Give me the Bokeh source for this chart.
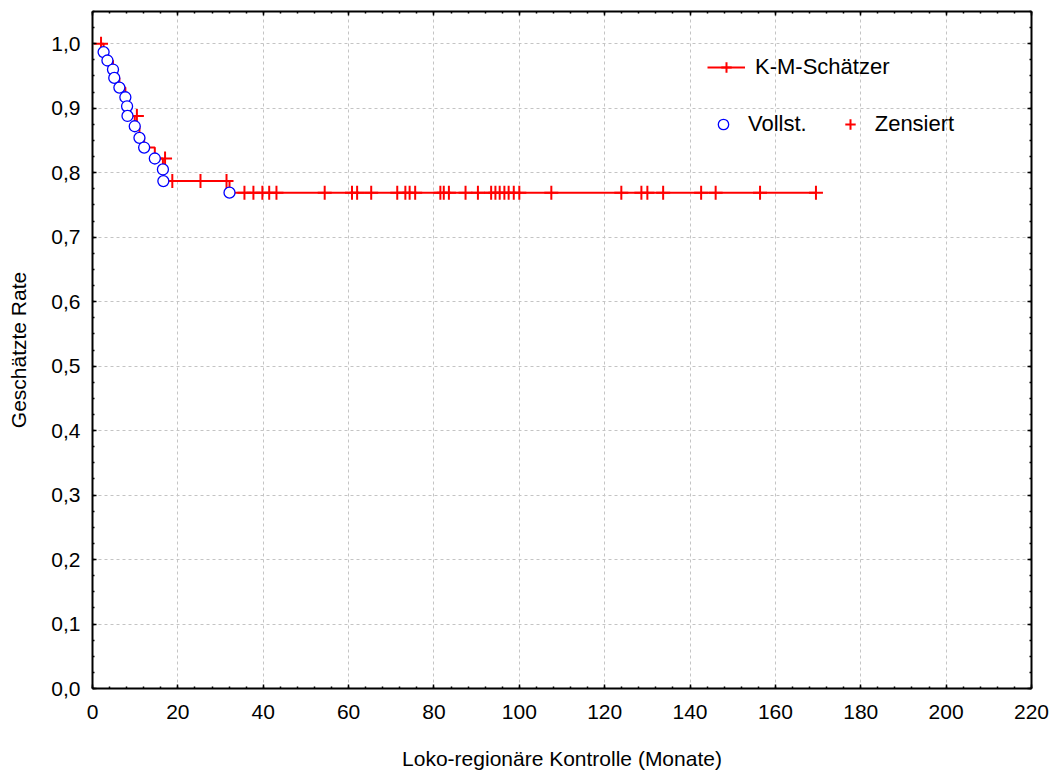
from bokeh.plotting import figure
from bokeh.models import (Range1d, FixedTicker, LinearAxis, CustomJSTickFormatter,
                          Legend, LegendItem)
from bokeh.embed import file_html
from bokeh.resources import INLINE

# Loco-regional failures: time (months) and Kaplan-Meier estimate after each event
event_months = [2.6, 3.5, 4.8, 5.1, 6.3, 7.7, 8.1, 8.2, 9.9, 11.0, 12.1, 14.6, 16.5, 16.6, 32.1]
event_rate = [0.987, 0.974, 0.960, 0.947, 0.932, 0.917, 0.903, 0.888, 0.872, 0.854,
              0.839, 0.822, 0.805, 0.787, 0.769]

# Censored observations: time (months) and estimate at that time
censored_months = [2.0, 10.4, 17.0, 18.7, 25.3, 31.4,
                   35.6, 37.7, 39.8, 41.4, 43.1, 54.4, 60.8, 62.0, 65.3,
                   71.4, 73.3, 74.3, 75.6, 81.5, 82.3, 83.5, 87.4, 90.3,
                   93.4, 94.4, 95.4, 96.5, 97.5, 98.7, 100.0, 107.5,
                   123.9, 128.6, 130.0, 133.7, 142.6, 146.0, 156.4, 169.5]
censored_rate = [1.0, 0.888, 0.822, 0.787, 0.787, 0.787,
                 0.769, 0.769, 0.769, 0.769, 0.769, 0.769, 0.769, 0.769, 0.769,
                 0.769, 0.769, 0.769, 0.769, 0.769, 0.769, 0.769, 0.769, 0.769,
                 0.769, 0.769, 0.769, 0.769, 0.769, 0.769, 0.769, 0.769,
                 0.769, 0.769, 0.769, 0.769, 0.769, 0.769, 0.769, 0.769]

x_ticks = [0, 20, 40, 60, 80, 100, 120, 140, 160, 180, 200, 220]
y_ticks = [0.0, 0.1, 0.2, 0.3, 0.4, 0.5, 0.6, 0.7, 0.8, 0.9, 1.0]
y_tick_labels = ["0,0", "0,1", "0,2", "0,3", "0,4", "0,5", "0,6", "0,7", "0,8", "0,9", "1,0"]
x_minor = [t for t in range(0, 221, 4)]
y_minor = [i / 40 for i in range(0, 43)]

FONT = "Liberation Sans"
RED = "#ff0000"
BLUE = "#0000ff"

p = figure(width=1054, height=774, output_backend="svg", toolbar_location=None,
           x_range=Range1d(0, 220), y_range=Range1d(0, 1.05),
           min_border_left=92, min_border_right=23, min_border_top=11, min_border_bottom=86)
p.background_fill_color = "white"
p.border_fill_color = "white"
p.outline_line_color = None

# Step curve from the first observation to the last one
step_x = [censored_months[0]] + event_months + [censored_months[-1]]
step_y = [censored_rate[0]] + event_rate + [event_rate[-1]]
line_r = p.step(step_x, step_y, mode="after", line_color=RED, line_width=2)

cross_r = p.scatter(censored_months, censored_rate, marker="cross", size=14,
                    line_color=RED, line_width=2)
circ_r = p.scatter(event_months, event_rate, marker="circle", size=11,
                   line_color=BLUE, line_width=1.3, fill_color="white")

# Axes
for ax in (p.xaxis[0], p.yaxis[0]):
    ax.axis_line_width = 2
    ax.axis_line_color = "black"
    ax.major_tick_in = 4
    ax.major_tick_out = 0
    ax.minor_tick_in = 2
    ax.minor_tick_out = 0
    ax.major_tick_line_width = 1.5
    ax.minor_tick_line_width = 1.5
    ax.major_label_text_font = FONT
    ax.major_label_text_font_size = "21px"
    ax.major_label_text_color = "black"
    ax.axis_label_text_font = FONT
    ax.axis_label_text_font_size = "21px"
    ax.axis_label_text_font_style = "normal"
    ax.axis_label_text_color = "black"

p.xaxis.ticker = FixedTicker(ticks=x_ticks, minor_ticks=x_minor)
p.yaxis.ticker = FixedTicker(ticks=y_ticks, minor_ticks=y_minor)
p.yaxis.major_label_overrides = dict(zip(y_ticks, y_tick_labels))
p.xaxis.axis_label = "Loko-regionäre Kontrolle (Monate)"
p.yaxis.axis_label = "Geschätzte Rate"
p.xaxis.major_label_standoff = 16
p.xaxis.axis_label_standoff = 25
p.yaxis.major_label_standoff = 12
p.yaxis.axis_label_standoff = 18

blank = CustomJSTickFormatter(code="return ''")
right_ax = LinearAxis(ticker=FixedTicker(ticks=y_ticks, minor_ticks=y_minor), formatter=blank)
top_ax = LinearAxis(ticker=FixedTicker(ticks=x_ticks, minor_ticks=x_minor), formatter=blank)
for ax in (right_ax, top_ax):
    ax.axis_line_width = 2
    ax.major_tick_in = 4
    ax.major_tick_out = 0
    ax.minor_tick_in = 2
    ax.minor_tick_out = 0
    ax.major_tick_line_width = 1.5
    ax.minor_tick_line_width = 1.5
    ax.major_label_standoff = 0
p.add_layout(right_ax, "right")
p.add_layout(top_ax, "above")

# Grid
for g in (p.xgrid[0], p.ygrid[0]):
    g.grid_line_color = "#c4c4c4"
    g.grid_line_dash = "3 3"
    g.grid_line_width = 1
p.xgrid.ticker = FixedTicker(ticks=x_ticks)
p.ygrid.ticker = FixedTicker(ticks=y_ticks)

# Legends
common = dict(label_text_font=FONT, label_text_font_size="22px", label_text_color="black",
              padding=0, margin=0, border_line_color=None, background_fill_alpha=0,
              glyph_height=26, label_height=26)
leg1 = Legend(items=[LegendItem(label="K-M-Schätzer", renderers=[line_r, cross_r])],
              location=(615, 608), glyph_width=38, label_standoff=10, **common)
leg2 = Legend(items=[LegendItem(label="Vollst.", renderers=[circ_r]),
                     LegendItem(label="Zensiert", renderers=[cross_r])],
              orientation="horizontal", location=(618, 551), glyph_width=26,
              label_standoff=12, spacing=30, **common)
p.add_layout(leg1)
p.add_layout(leg2)

open("out.html", "w").write(file_html(p, INLINE))
